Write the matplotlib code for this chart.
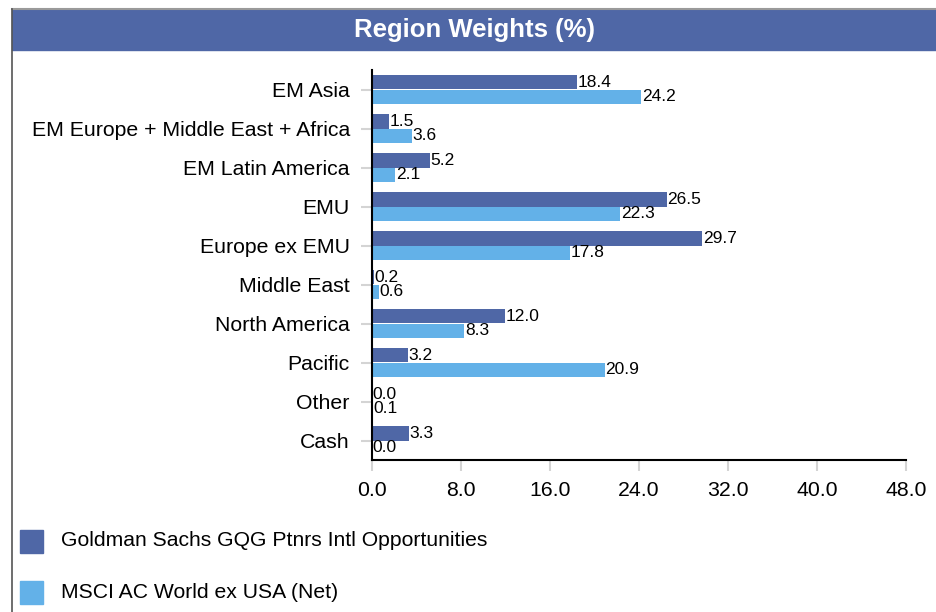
import matplotlib.pyplot as plt
import numpy as np
from matplotlib.patches import Rectangle
from matplotlib.lines import Line2D

plt.rcParams['font.family'] = ['Liberation Sans', 'DejaVu Sans']

regions = ['EM Asia', 'EM Europe + Middle East + Africa', 'EM Latin America', 'EMU',
           'Europe ex EMU', 'Middle East', 'North America', 'Pacific', 'Other', 'Cash']
fund = [18.4, 1.5, 5.2, 26.5, 29.7, 0.2, 12.0, 3.2, 0.0, 3.3]
bench = [24.2, 3.6, 2.1, 22.3, 17.8, 0.6, 8.3, 20.9, 0.1, 0.0]
series_names = ['Goldman Sachs GQG Ptnrs Intl Opportunities', 'MSCI AC World ex USA (Net)']
xticks = [0, 8, 16, 24, 32, 40, 48]

dark = '#4f67a6'
light = '#63b1e8'

W, H = 936, 612
fig = plt.figure(figsize=(W / 100, H / 100), dpi=100)

# frame: title band, top rule, left rule
fig.patches.append(Rectangle((12 / W, 1 - 50 / H), 1 - 12 / W, 40 / H,
                             transform=fig.transFigure, color='#4f67a6', zorder=0))
fig.lines.append(Line2D([12 / W, 1], [1 - 9 / H, 1 - 9 / H], transform=fig.transFigure,
                        color='#9a9a9a', lw=1.5))
fig.lines.append(Line2D([12 / W, 12 / W], [1 - 9 / H, 0], transform=fig.transFigure,
                        color='#555555', lw=1.2))
fig.text((12 / W + 1) / 2, 1 - 30 / H, 'Region Weights (%)', color='white',
         fontsize=18.5, fontweight='bold', ha='center', va='center')

ax = fig.add_axes([372 / W, 1 - 460 / H, (906 - 372) / W, (460 - 70) / H])
y = np.arange(len(regions))
h = 0.38
b1 = ax.barh(y - h / 2, fund, height=h, color=dark)
b2 = ax.barh(y + h / 2, bench, height=h, color=light)
for bars, vals in ((b1, fund), (b2, bench)):
    for bar, v in zip(bars, vals):
        ax.text(v + 0.05, bar.get_y() + bar.get_height() / 2, f'{v:.1f}',
                va='center', ha='left', fontsize=12.5)

ax.set_ylim(len(regions) - 0.5, -0.5)
ax.set_xlim(0, 48)
ax.set_yticks(y)
ax.set_yticklabels(regions, fontsize=15.3)
ax.set_xticks(xticks)
ax.set_xticklabels([f'{t:.1f}' for t in xticks], fontsize=15.3)
ax.tick_params(axis='y', length=8, width=1.5, color='#d4d4d4', pad=8)
ax.tick_params(axis='x', length=8, width=1.5, color='#d4d4d4', pad=7)
for s in ('top', 'right'):
    ax.spines[s].set_visible(False)
for s in ('left', 'bottom'):
    ax.spines[s].set_linewidth(1.5)
    ax.spines[s].set_color('black')

# legend
for i, (name, c) in enumerate(zip(series_names, (dark, light))):
    yc = 541 + i * 51
    fig.patches.append(Rectangle((20 / W, 1 - (yc + 12) / H), 23 / W, 23 / H,
                                 transform=fig.transFigure, color=c))
    fig.text(61 / W, 1 - yc / H, name, fontsize=15.2, va='center', ha='left')

fig.savefig('out.png', dpi=100)
